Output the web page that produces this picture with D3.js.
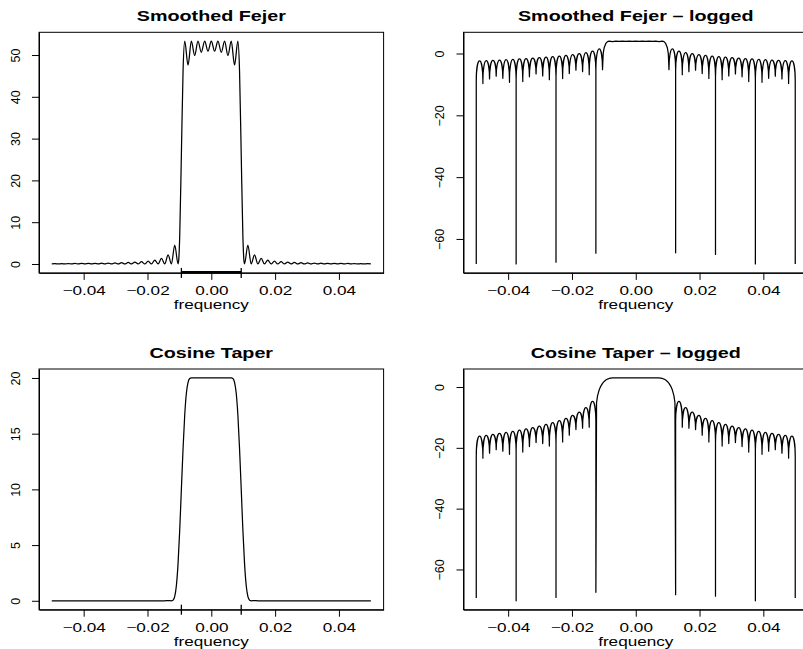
<!DOCTYPE html>
<html><head><meta charset="utf-8">
<script src="https://cdn.jsdelivr.net/npm/d3@7"></script>
<style>
html,body{margin:0;padding:0;background:#fff;}
svg{display:block;}
text{font-family:"Liberation Sans", Arial, Helvetica, sans-serif; fill:#000;}
</style></head><body>
<svg id="chart" width="803" height="649"></svg>
<script>
// ---------------- data ----------------
const xTickValues = [-0.04, -0.02, 0, 0.02, 0.04];
const xTickLabels = ["\u22120.04", "\u22120.02", "0.00", "0.02", "0.04"];
const fejerYTicks = [0, 10, 20, 30, 40, 50];
const cosineYTicks = [0, 5, 10, 15, 20];
const logYTicks = [0, -20, -40, -60];
const panelTitles = ["Smoothed Fejer", "Smoothed Fejer \u2013 logged", "Cosine Taper", "Cosine Taper \u2013 logged"];
const xLabel = "frequency";

// side-lobe nulls and lobe centres (positive frequencies; left side mirrors them)
const sideNullFreq = [0.010417, 0.0125, 0.014583, 0.016667, 0.01875, 0.020833, 0.022917, 0.025, 0.027083, 0.029167,
  0.03125, 0.033333, 0.035417, 0.0375, 0.039583, 0.041667, 0.04375, 0.045833, 0.047917, 0.05];
const sideLobeFreq = [0.011458, 0.013542, 0.015625, 0.017708, 0.019792, 0.021875, 0.023958, 0.026042, 0.028125, 0.030208,
  0.032292, 0.034375, 0.036458, 0.038542, 0.040625, 0.042708, 0.044792, 0.046875, 0.048958];

// Smoothed Fejer (natural log of the window)
const fejerPassFreq = [0, 0.00104, 0.00208, 0.00313, 0.00417, 0.00521, 0.00625, 0.00729, 0.00833, 0.00885, 0.00938, 0.0099, 0.01021];
const fejerPassLog = [3.976, 3.930, 3.976, 3.925, 3.976, 3.910, 3.976, 3.863, 3.976, 3.833, 3.262, 1.884, -0.064];
const fejerNullLogLeft = [-5.25, -64.6, -6.86, -5.88, -5.40, -6.48, -8.10, -67.5, -8.49, -7.27, -6.61, -7.56, -9.08, -68.1, -9.31, -8.04, -7.33, -8.24, -9.71, -68.1];
const fejerNullLogRight = [-5.25, -64.5, -6.86, -5.88, -5.40, -6.48, -8.10, -65.0, -8.49, -7.27, -6.61, -7.56, -9.08, -68.1, -9.31, -8.04, -7.33, -8.24, -9.71, -68.1];
const fejerLobeLog = [1.51, 0.77, 0.29, -0.07, -0.37, -0.62, -0.84, -1.03, -1.21, -1.36, -1.51, -1.65, -1.77, -1.89, -2.00, -2.11, -2.21, -2.30, -2.39];

// Cosine taper (natural log of the window); its first null is at 0.0125
const cosinePassFreq = [0, 0.00208, 0.00417, 0.00625, 0.00677, 0.00729, 0.00781, 0.00833, 0.00885, 0.00938, 0.0099, 0.01042, 0.01094, 0.01146, 0.01198, 0.01229];
const cosinePassLog = [2.996, 2.996, 2.996, 2.996, 2.993, 2.976, 2.925, 2.814, 2.615, 2.303, 1.845, 1.204, 0.319, -0.934, -2.913, -5.18];
const cosineNullLogLeft = [-67.5, -13.22, -13.54, -13.99, -15.82, -18.04, -69.2, -19.40, -18.58, -18.28, -19.56, -21.37, -70.3, -22.14, -21.10, -20.62, -21.74, -23.41, -69.4];
const cosineNullLogRight = [-68.3, -13.22, -13.54, -13.99, -15.82, -18.04, -68.8, -19.40, -18.58, -18.28, -19.56, -21.37, -70.3, -22.14, -21.10, -20.62, -21.74, -23.41, -69.4];
const cosineLobeLog = [-4.71, -6.78, -8.23, -9.35, -10.27, -11.05, -11.73, -12.32, -12.86, -13.35, -13.79, -14.21, -14.59, -14.94, -15.28, -15.59, -15.89, -16.17];

// bandwidth marks
const bandwidthEnds = [-0.009375, 0.009375];
const bandSegmentLevel = -2;

// ---------------- build series ----------------
function buildSeries(passFreq, passLog, nullFreq, nullLeft, nullRight, lobeFreq, lobeLog) {
  const pts = [];
  const n = nullFreq.length;
  for (let k = n - 1; k >= 0; k--) {
    pts.push({ f: -nullFreq[k], v: nullLeft[k], t: "null" });
    if (k > 0) pts.push({ f: -lobeFreq[k - 1], v: lobeLog[k - 1], t: "lobe" });
  }
  for (let k = passFreq.length - 1; k >= 1; k--) pts.push({ f: -passFreq[k], v: passLog[k], t: "pass" });
  for (let k = 0; k < passFreq.length; k++) pts.push({ f: passFreq[k], v: passLog[k], t: "pass" });
  for (let k = 0; k < n; k++) {
    pts.push({ f: nullFreq[k], v: nullRight[k], t: "null" });
    if (k < n - 1) pts.push({ f: lobeFreq[k], v: lobeLog[k], t: "lobe" });
  }
  return pts;
}
const fejer = buildSeries(fejerPassFreq, fejerPassLog, sideNullFreq, fejerNullLogLeft, fejerNullLogRight, sideLobeFreq, fejerLobeLog);
const cosine = buildSeries(cosinePassFreq, cosinePassLog, sideNullFreq.slice(1), cosineNullLogLeft, cosineNullLogRight, sideLobeFreq.slice(1), cosineLobeLog);

// ---------------- layout ----------------
const TEXT_SX = 1.37;
const TICK_FONT = "12.5px";
const panels = [
  { series: fejer, logged: false, yTicks: fejerYTicks, title: panelTitles[0], box: { x0: 39, x1: 383.6, y0: 32.3, y1: 272.9 }, band: true, bandLine: true },
  { series: fejer, logged: true, yTicks: logYTicks, title: panelTitles[1], box: { x0: 463.5, x1: 808, y0: 32.3, y1: 272.9 }, band: false },
  { series: cosine, logged: false, yTicks: cosineYTicks, title: panelTitles[2], box: { x0: 39, x1: 383.6, y0: 369, y1: 609.7 }, band: true, bandLine: true },
  { series: cosine, logged: true, yTicks: logYTicks, title: panelTitles[3], box: { x0: 463.5, x1: 808, y0: 369, y1: 609.7 }, band: false }
];

const svg = d3.select("#chart");
svg.append("rect").attr("width", 803).attr("height", 649).attr("fill", "#fff");

function padded(ext) {
  const d = (ext[1] - ext[0]) * 0.04;
  return [ext[0] - d, ext[1] + d];
}

panels.forEach((p, idx) => {
  const b = p.box;
  const val = d => p.logged ? d.v : Math.exp(d.v);
  const x = d3.scaleLinear().domain(padded(d3.extent(p.series, d => d.f))).range([b.x0, b.x1]);
  const y = d3.scaleLinear().domain(padded(d3.extent(p.series, val))).range([b.y1, b.y0]);

  const g = svg.append("g");
  const clipId = "clip" + idx;
  g.append("clipPath").attr("id", clipId).append("rect")
    .attr("x", b.x0).attr("y", b.y0).attr("width", b.x1 - b.x0).attr("height", b.y1 - b.y0);

  // curve
  let pathD;
  if (!p.logged) {
    pathD = d3.line().x(d => x(d.f)).y(d => y(val(d))).curve(d3.curveMonotoneX)(p.series);
  } else {
    const path = d3.path();
    const K = 0.5523;
    const pts = p.series.map(d => ({ x: x(d.f), y: y(d.v), t: d.t }));
    path.moveTo(pts[0].x, pts[0].y);
    for (let i = 1; i < pts.length; i++) {
      const a = pts[i - 1], c = pts[i];
      if (a.t === "null" && c.t === "lobe") {
        const H = a.y - c.y, h = Math.min(H, 20), ys = c.y + h;
        if (H > h) path.lineTo(a.x, ys);
        path.bezierCurveTo(a.x, ys - K * h, c.x - K * (c.x - a.x), c.y, c.x, c.y);
      } else if (a.t === "lobe" && c.t === "null") {
        const H = c.y - a.y, h = Math.min(H, 20), ys = a.y + h;
        path.bezierCurveTo(a.x + K * (c.x - a.x), a.y, c.x, ys - K * h, c.x, ys);
        if (H > h) path.lineTo(c.x, c.y);
      } else {
        path.lineTo(c.x, c.y);
      }
    }
    pathD = path.toString();
  }
  g.append("path").attr("d", pathD).attr("clip-path", `url(#${clipId})`)
    .attr("fill", "none").attr("stroke", "#000").attr("stroke-width", 1.25).attr("stroke-linejoin", "round");

  // bandwidth segment and end marks
  if (p.band) {
    g.append("line").attr("clip-path", `url(#${clipId})`)
      .attr("x1", x(bandwidthEnds[0])).attr("x2", x(bandwidthEnds[1]))
      .attr("y1", y(bandSegmentLevel)).attr("y2", y(bandSegmentLevel))
      .attr("stroke", "#000").attr("stroke-width", 2.5);
    g.selectAll("line.bw").data(bandwidthEnds).enter().append("line").attr("class", "bw")
      .attr("x1", d => x(d)).attr("x2", d => x(d))
      .attr("y1", b.y1 - 5).attr("y2", b.y1 + 5)
      .attr("stroke", "#000").attr("stroke-width", 1.3);
  }

  // box
  g.append("rect").attr("x", b.x0).attr("y", b.y0).attr("width", b.x1 - b.x0).attr("height", b.y1 - b.y0)
    .attr("fill", "none").attr("stroke", "#000").attr("stroke-width", 1);

  // x axis
  const xa = g.append("g").attr("transform", `translate(0,${b.y1})`)
    .call(d3.axisBottom(x).tickValues(xTickValues).tickSize(7).tickSizeOuter(0)
      .tickFormat((d, i) => xTickLabels[i]));
  xa.select(".domain").attr("stroke", "#000");
  xa.selectAll(".tick line").attr("stroke", "#000");
  xa.selectAll(".tick text").attr("y", 22).attr("dy", null)
    .attr("transform", `scale(${TEXT_SX},1)`)
    .style("font-size", TICK_FONT).style("font-family", "'Liberation Sans', Arial, sans-serif").attr("fill", "#000");

  // y axis
  const ya = g.append("g").attr("transform", `translate(${b.x0},0)`)
    .call(d3.axisLeft(y).tickValues(p.yTicks).tickSize(7).tickSizeOuter(0)
      .tickFormat(d => (d < 0 ? "\u2212" : "") + Math.abs(d)));
  ya.select(".domain").attr("stroke", "#000");
  ya.selectAll(".tick line").attr("stroke", "#000");
  ya.selectAll(".tick text").attr("x", 0).attr("y", -19.5).attr("dy", null)
    .attr("transform", "rotate(-90)").attr("text-anchor", "middle")
    .style("font-size", TICK_FONT).style("font-family", "'Liberation Sans', Arial, sans-serif").attr("fill", "#000");

  // x label
  g.append("text").attr("transform", `translate(${x(0)},${b.y1 + 36}) scale(${TEXT_SX},1)`)
    .attr("text-anchor", "middle").style("font-size", TICK_FONT).text(xLabel);

  // title
  g.append("text").attr("transform", `translate(${x(0)},${b.y0 - 11}) scale(${TEXT_SX},1)`)
    .attr("text-anchor", "middle").style("font-size", "14.4px").style("font-weight", "bold").text(p.title);
});
</script>
</body></html>
